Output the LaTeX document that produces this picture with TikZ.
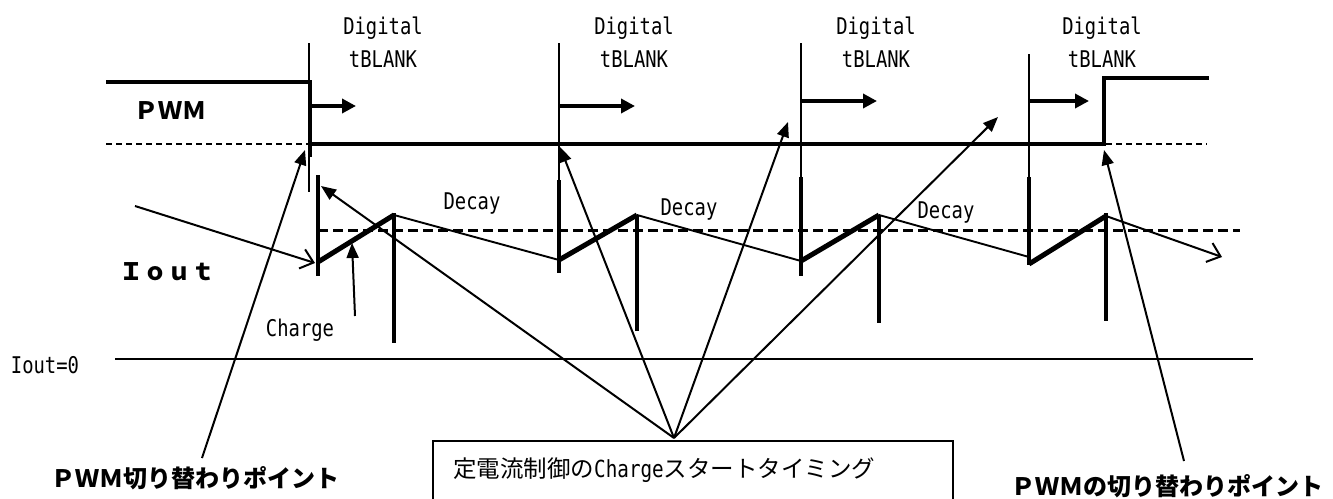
\documentclass[tikz,border=0pt]{standalone}
\usepackage{fontspec}
\usetikzlibrary{arrows.meta}
\newfontfamily\jp{Noto Sans CJK JP}
\newfontfamily\mono{DejaVu Sans Mono}[FakeStretch=0.82]
\tikzset{
  lbl/.style={font=\mono\fontsize{23}{25}\selectfont, inner sep=0pt, anchor=base},
  big/.style={font=\jp\bfseries\fontsize{24}{28}\selectfont, inner sep=0pt, anchor=base west},
  wave/.style={line width=3.4pt},
  rise/.style={line width=5pt},
  thinl/.style={line width=1.9pt},
  markline/.style={line width=2pt},
  filled/.style={line width=2pt, -{Triangle[length=15pt,width=12pt]}},
  blank/.style={line width=4.5pt, -{Triangle[length=14pt,width=14pt]}},
  openarr/.style={line width=2pt, -{Straight Barb[length=12pt,width=20pt,line width=2pt]}},
}
\begin{document}
\begin{tikzpicture}[x=1pt,y=-1pt]
\useasboundingbox (0,0) rectangle (1333,498);
\clip (0,0) rectangle (1333,498);

% ---- coordinates
\coordinate (pl0) at (106,82);
\coordinate (pl1) at (310,82);
\coordinate (pl2) at (310,157);
\coordinate (pm0) at (310,144);
\coordinate (pm1) at (1104,144);
\coordinate (pr0) at (1104,146);
\coordinate (pr1) at (1104,78);
\coordinate (pr2) at (1209,78);
\coordinate (dl0) at (106,144);
\coordinate (dl1) at (308,144);
\coordinate (dr0) at (1106,144);
\coordinate (dr1) at (1207,144);

% tBLANK markers
\coordinate (t1a) at (309,43);  \coordinate (t1b) at (309,192);
\coordinate (t2a) at (559,43);  \coordinate (t2b) at (559,180);
\coordinate (t3a) at (801,43);  \coordinate (t3b) at (801,177);
\coordinate (t4a) at (1029,54); \coordinate (t4b) at (1029,177);

% charge start verticals
\coordinate (c1a) at (318,175);  \coordinate (c1b) at (318,276);
\coordinate (c2a) at (559,180);  \coordinate (c2b) at (559,273);
\coordinate (c3a) at (801,177);  \coordinate (c3b) at (801,276);
\coordinate (c4a) at (1029,177); \coordinate (c4b) at (1029,265);

% sawtooth points
\coordinate (m1) at (318,262); \coordinate (k1) at (394,215);
\coordinate (m2) at (559,260); \coordinate (k2) at (637,215);
\coordinate (m3) at (801,261); \coordinate (k3) at (879,215);
\coordinate (m4a) at (1029,257); \coordinate (m4) at (1029,264); \coordinate (k4) at (1106,216);
\coordinate (endarr) at (1222,257);

% peak verticals
\coordinate (v1a) at (394,213);  \coordinate (v1b) at (394,343);
\coordinate (v2a) at (637,215);  \coordinate (v2b) at (637,331);
\coordinate (v3a) at (879,215);  \coordinate (v3b) at (879,323);
\coordinate (v4a) at (1106,213); \coordinate (v4b) at (1106,321);

\coordinate (ref0) at (318,230); \coordinate (ref1) at (1240,230);
\coordinate (z0) at (115,359);   \coordinate (z1) at (1253,359);

% ---- PWM waveform
\draw[wave] (pl0) -- (pl1) -- (pl2);
\draw[wave] (pm0) -- (pm1);
\draw[wave] (pr0) -- (pr1) -- (pr2);
\draw[thinl, dash pattern=on 6pt off 4pt] (dl0) -- (dl1);
\draw[thinl, dash pattern=on 6pt off 4pt] (dr0) -- (dr1);

% tBLANK thin markers
\foreach \i in {1,2,3,4} \draw[markline] (t\i a) -- (t\i b);
% charge start thick
\foreach \i in {1,2,3,4} \draw[wave] (c\i a) -- (c\i b);
% peak verticals
\foreach \i in {1,2,3,4} \draw[wave] (v\i a) -- (v\i b);

% reference dashed level
\draw[line width=3pt, dash pattern=on 10pt off 5pt] (ref0) -- (ref1);

% sawtooth
\draw[rise] (m1) -- (k1);
\draw[rise] (m2) -- (k2);
\draw[rise] (m3) -- (k3);
\draw[rise] (m4) -- (k4);
\draw[thinl] (k1) -- (m2);
\draw[thinl] (k2) -- (m3);
\draw[thinl] (k3) -- (m4a);
\draw[openarr] (k4) -- (endarr);

% Iout = 0
\draw[line width=2.4pt] (z0) -- (z1);

% ---- tBLANK arrows
\coordinate (b1a) at (310,106);  \coordinate (b1b) at (356,106);
\coordinate (b2a) at (559,106);  \coordinate (b2b) at (635,106);
\coordinate (b3a) at (801,101);  \coordinate (b3b) at (877,101);
\coordinate (b4a) at (1029,101); \coordinate (b4b) at (1089,101);
\foreach \i in {1,2,3,4} \draw[blank] (b\i a) -- (b\i b);

% ---- labels
\foreach \x/\n in {383/1,634/2,876/3,1102/4}{
  \node[lbl] (dig\n) at (\x,34) {Digital};
  \node[lbl] (tbl\n) at (\x,67) {tBLANK};
}
\node[lbl] (dec1) at (472,209) {Decay};
\node[lbl] (dec2) at (689,215) {Decay};
\node[lbl] (dec3) at (946,218) {Decay};
\node[lbl] (chg) at (300,336) {Charge};
\node[lbl] (iz) at (45,373) {Iout=0};

\node[big] (pwm) at (134,119) {ＰＷＭ};
\node[big] (iout) at (119,280) {Ｉｏｕｔ};
\node[big] (swl) at (51,487) {ＰＷＭ切り替わりポイント};
\node[big] (swr) at (1011,495) {ＰＷＭの切り替わりポイント};

% ---- box
\node[draw, line width=1.5pt, minimum width=520pt, minimum height=80pt, anchor=north west, inner sep=0pt] (box) at (432,440) {};
\node[inner sep=0pt, anchor=base west, font=\jp\fontsize{23.5}{26}\selectfont] (boxt) at (453,477)
  {定電流制御の{\mono\fontsize{23.5}{26}\selectfont Charge}スタートタイミング};

% ---- pointer arrows
\coordinate (cv) at (674,438);
\coordinate (a1) at (321,186);
\coordinate (a2) at (560,147);
\coordinate (a3) at (788,122);
\coordinate (a4) at (998,117);
\foreach \i in {1,2,3,4} \draw[filled] (cv) -- (a\i);

\coordinate (sl0) at (202,458); \coordinate (sl1) at (305,150);
\coordinate (sr0) at (1184,461); \coordinate (sr1) at (1104,150);
\draw[filled] (sl0) -- (sl1);
\draw[filled] (sr0) -- (sr1);

\coordinate (io0) at (135,206); \coordinate (io1) at (315,263);
\draw[openarr] (io0) -- (io1);

\coordinate (ch0) at (355,316); \coordinate (ch1) at (352,243);
\draw[filled] (ch0) -- (ch1);
\end{tikzpicture}
\end{document}
